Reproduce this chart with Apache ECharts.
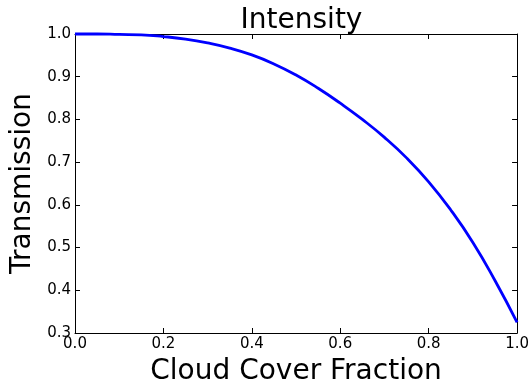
<!DOCTYPE html>
<html>
<head>
<meta charset="utf-8">
<script src="https://cdn.jsdelivr.net/npm/echarts@6/dist/echarts.min.js"></script>
<style>
html,body{margin:0;padding:0;background:#fff;}
#c{width:532px;height:391px;}
</style>
</head>
<body>
<div id="c"></div>
<script>
var cloudFraction = [0, 0.05, 0.1, 0.15, 0.2, 0.25, 0.3, 0.35, 0.4, 0.45, 0.5, 0.55, 0.6, 0.65, 0.7, 0.75, 0.8, 0.85, 0.9, 0.95, 1.0];
var transmission = [1.000, 1.000, 0.999, 0.998, 0.994, 0.988, 0.979, 0.967, 0.951, 0.930, 0.904, 0.873, 0.838, 0.800, 0.758, 0.710, 0.654, 0.588, 0.512, 0.423, 0.325];
var titleText = 'Intensity';
var xLabel = 'Cloud Cover Fraction';
var yLabel = 'Transmission';

var font = 'DejaVu Sans';
var chart = echarts.init(document.getElementById('c'), null, {renderer: 'canvas'});
var pts = cloudFraction.map(function (x, i) { return [x, transmission[i]]; });

function axisCommon(show) {
  return {
    axisLine: {show: true, onZero: false, lineStyle: {color: '#000', width: 1}},
    axisTick: {show: true, inside: true, length: 5, lineStyle: {color: '#000', width: 1}},
    splitLine: {show: false},
    axisLabel: {show: show, color: '#000', fontFamily: font, fontSize: 15,
      formatter: function (v) { return (Math.round(v * 10) / 10).toFixed(1); }}
  };
}
var xb = Object.assign({type: 'value', position: 'bottom', min: 0, max: 1, interval: 0.2,
  name: xLabel, nameLocation: 'middle', nameGap: 25,
  nameTextStyle: {fontFamily: font, fontSize: 28, color: '#000'}}, axisCommon(true));
xb.axisLabel.margin = 4;
var xt = Object.assign({type: 'value', position: 'top', min: 0, max: 1, interval: 0.2}, axisCommon(false));
var yl = Object.assign({type: 'value', position: 'left', min: 0.3, max: 1.0, interval: 0.1,
  name: yLabel, nameLocation: 'middle', nameGap: 35,
  nameTextStyle: {fontFamily: font, fontSize: 28, color: '#000'}}, axisCommon(true));
yl.axisLabel.margin = 4;
var yr = Object.assign({type: 'value', position: 'right', min: 0.3, max: 1.0, interval: 0.1}, axisCommon(false));

chart.setOption({
  animation: false,
  backgroundColor: '#fff',
  title: {text: titleText, left: 296.5, textAlign: 'center', top: 2,
    textStyle: {fontFamily: font, fontSize: 28, fontWeight: 'normal', color: '#000'}},
  grid: {left: 75, right: 14.3, top: 34, bottom: 53.5, containLabel: false},
  xAxis: [xb, xt],
  yAxis: [yl, yr],
  series: [{type: 'line', data: pts, xAxisIndex: 0, yAxisIndex: 0, smooth: 0.5, showSymbol: false,
    lineStyle: {color: '#0000ff', width: 2.8}, clip: false}]
});
</script>
</body>
</html>
